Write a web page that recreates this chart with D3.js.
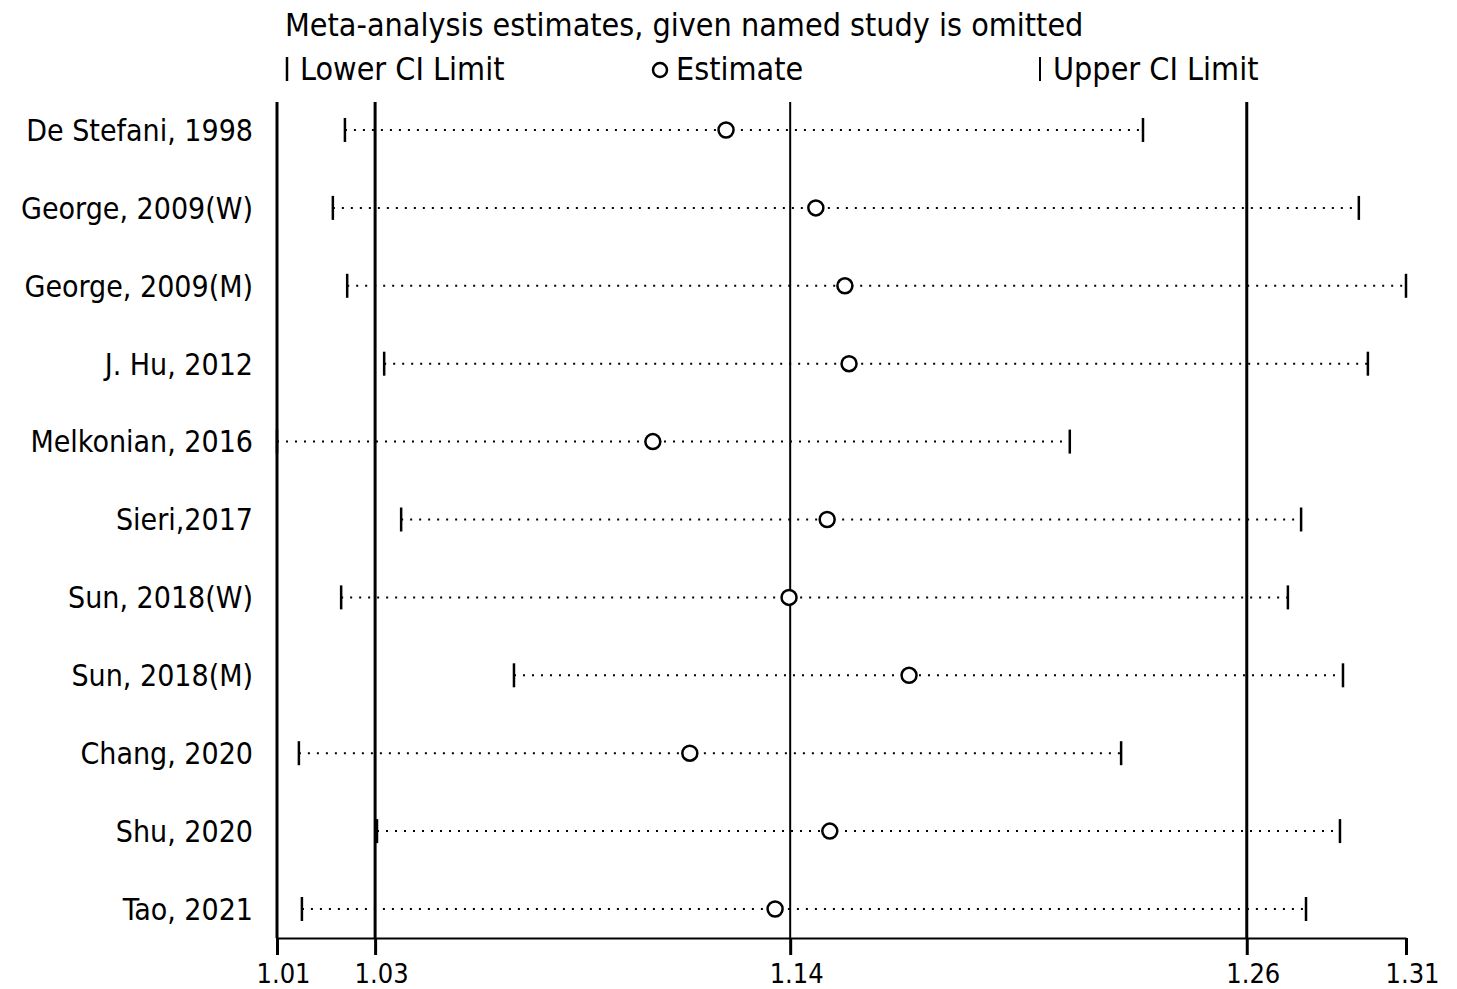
<!DOCTYPE html>
<html>
<head>
<meta charset="utf-8">
<script src="https://cdn.jsdelivr.net/npm/d3@7"></script>
<style>
  body { margin: 0; background: #fff; }
  text { font-family: "DejaVu Sans Condensed", "DejaVu Sans", sans-serif; fill: #000; }
</style>
</head>
<body>
<div id="container"></div>
<script>

// studies omitted one at a time
var studies = ["De Stefani, 1998", "George, 2009(W)", "George, 2009(M)", "J. Hu, 2012",
	       "Melkonian, 2016", "Sieri,2017", "Sun, 2018(W)", "Sun, 2018(M)",
	       "Chang, 2020", "Shu, 2020", "Tao, 2021"];

// pooled estimate and CI limits when the study is left out
var lower    = [1.0250, 1.0218, 1.0256, 1.0354, 1.0070, 1.0399, 1.0240, 1.0698, 1.0128, 1.0335, 1.0136];
var estimate = [1.1260, 1.1498, 1.1575, 1.1586, 1.1066, 1.1528, 1.1427, 1.1745, 1.1164, 1.1535, 1.1390];
var upper    = [1.2365, 1.2937, 1.3062, 1.2961, 1.2171, 1.2784, 1.2749, 1.2895, 1.2307, 1.2887, 1.2797];

// overall combined estimate (reference lines) and axis limits
var overall = [1.033, 1.143, 1.264];
var tickValues = [1.007, 1.033, 1.143, 1.264, 1.3062];

var W = 1457, H = 989;
var mLeft = 277, mRight = 1406, mTop = 102, mBottom = 938;

var svg = d3.select("#container").append("svg")
    .attr("width", W)
    .attr("height", H);

var x = d3.scaleLinear()
    .domain([d3.min(tickValues), d3.max(tickValues)])
    .range([mLeft, mRight]);

var y = d3.scalePoint()
    .domain(studies)
    .range([130, 909]);

// title + legend
svg.append("text")
    .attr("x", 285).attr("y", 36)
    .style("font-size", "32px")
    .text("Meta-analysis estimates, given named study is omitted");

var leg = svg.append("g");
leg.append("line").attr("x1", 287).attr("x2", 287).attr("y1", 57).attr("y2", 81)
    .attr("stroke", "#000").attr("stroke-width", 2.5);
leg.append("text").attr("x", 300).attr("y", 80).style("font-size", "32px").text("Lower CI Limit");
leg.append("circle").attr("cx", 660).attr("cy", 70).attr("r", 7)
    .attr("fill", "none").attr("stroke", "#000").attr("stroke-width", 2.5);
leg.append("text").attr("x", 676).attr("y", 80).style("font-size", "32px").text("Estimate");
leg.append("line").attr("x1", 1040).attr("x2", 1040).attr("y1", 57).attr("y2", 81)
    .attr("stroke", "#000").attr("stroke-width", 2);
leg.append("text").attr("x", 1053).attr("y", 80).style("font-size", "32px").text("Upper CI Limit");

// left axis line
svg.append("line")
    .attr("x1", mLeft).attr("x2", mLeft).attr("y1", mTop).attr("y2", mBottom)
    .attr("stroke", "#000").attr("stroke-width", 3);

// vertical lines for the overall estimate
svg.selectAll(".ref")
    .data(overall)
    .enter().append("line")
    .attr("class", "ref")
    .attr("x1", function(d){ return x(d); })
    .attr("x2", function(d){ return x(d); })
    .attr("y1", mTop).attr("y2", mBottom)
    .attr("stroke", "#000")
    .attr("stroke-width", function(d, i){ return i == 1 ? 2 : 3; });

// bottom axis
var xAxis = d3.axisBottom(x)
    .tickValues(tickValues)
    .tickFormat(d3.format(".2f"))
    .tickSize(17)
    .tickSizeOuter(0);

var gx = svg.append("g")
    .attr("transform", "translate(0," + mBottom + ")")
    .call(xAxis);
gx.select(".domain").attr("stroke-width", 2);
gx.selectAll(".tick line").attr("stroke-width", 3);
gx.selectAll(".tick text")
    .attr("dy", "0")
    .attr("y", 45)
    .attr("dx", 6)
    .style("font-size", "27px");

// study labels
svg.selectAll(".lab")
    .data(studies)
    .enter().append("text")
    .attr("class", "lab")
    .attr("x", 253)
    .attr("y", function(d){ return y(d); })
    .attr("dy", "0.36em")
    .attr("text-anchor", "end")
    .style("font-size", "30px")
    .text(function(d){ return d; });

var rows = svg.selectAll(".row")
    .data(studies)
    .enter().append("g")
    .attr("class", "row")
    .attr("transform", function(d){ return "translate(0," + y(d) + ")"; });

// dotted CI line
rows.append("line")
    .attr("x1", function(d, i){ return x(lower[i]); })
    .attr("x2", function(d, i){ return x(upper[i]); })
    .attr("stroke", "#000")
    .attr("stroke-width", 2)
    .attr("stroke-dasharray", "2,7");

// CI limits
rows.append("line")
    .attr("x1", function(d, i){ return x(lower[i]); })
    .attr("x2", function(d, i){ return x(lower[i]); })
    .attr("y1", -12).attr("y2", 12)
    .attr("stroke", "#000").attr("stroke-width", 2.5);

rows.append("line")
    .attr("x1", function(d, i){ return x(upper[i]); })
    .attr("x2", function(d, i){ return x(upper[i]); })
    .attr("y1", -12).attr("y2", 12)
    .attr("stroke", "#000").attr("stroke-width", 2.5);

// estimate
rows.append("circle")
    .attr("cx", function(d, i){ return x(estimate[i]); })
    .attr("r", 7.5)
    .attr("fill", "#fff")
    .attr("stroke", "#000")
    .attr("stroke-width", 2.5);

</script>
</body>
</html>
